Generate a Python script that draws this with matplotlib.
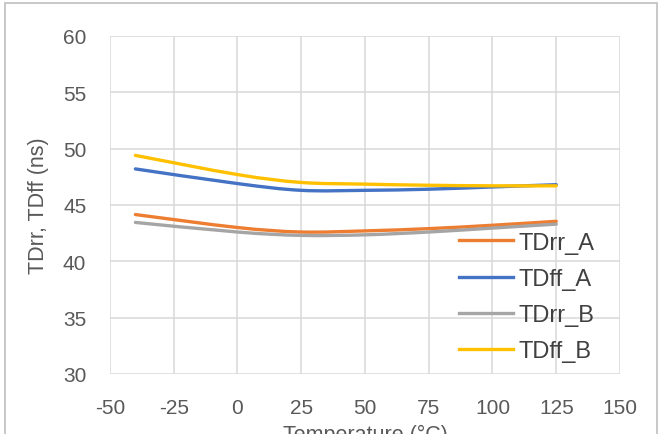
import numpy as np
import matplotlib
matplotlib.use('Agg')
import matplotlib.pyplot as plt
from matplotlib.path import Path
from matplotlib.patches import PathPatch, Rectangle
from matplotlib.lines import Line2D

plt.rcParams['font.family'] = ['Liberation Sans', 'DejaVu Sans']
plt.rcParams['axes.unicode_minus'] = False

# data
temps = [-40, 0, 25, 50, 75, 100, 125]
tdrr_a = [44.15, 43.0, 42.6, 42.7, 42.9, 43.2, 43.55]
tdff_a = [48.2, 46.9, 46.3, 46.3, 46.4, 46.6, 46.8]
tdrr_b = [43.45, 42.6, 42.3, 42.35, 42.6, 42.95, 43.3]
tdff_b = [49.4, 47.7, 47.0, 46.85, 46.75, 46.7, 46.7]

series = [
    ('TDrr_A', tdrr_a, '#ED7D31'),
    ('TDff_A', tdff_a, '#4472C4'),
    ('TDrr_B', tdrr_b, '#A5A5A5'),
    ('TDff_B', tdff_b, '#FFC000'),
]


def smooth_path(x, y):
    # Excel-like smoothed line: cubic beziers through the data points
    x = np.asarray(x, float)
    y = np.asarray(y, float)
    pts = np.column_stack([x, y])
    n = len(pts)
    verts = [pts[0]]
    codes = [Path.MOVETO]
    for i in range(n - 1):
        p0 = pts[i - 1] if i > 0 else pts[i]
        p1 = pts[i]
        p2 = pts[i + 1]
        p3 = pts[i + 2] if i + 2 < n else pts[i + 1]
        c1 = p1 + (p2 - p0) / 6.0
        c2 = p2 - (p3 - p1) / 6.0
        verts += [c1, c2, p2]
        codes += [Path.CURVE4] * 3
    return Path(verts, codes)


fig = plt.figure(figsize=(6.62, 4.35), dpi=100)
ax = fig.add_axes([0.166, 0.138, 0.7706, 0.777])

handles = []
for name, vals, col in series:
    patch = PathPatch(smooth_path(temps, vals), facecolor='none', edgecolor=col,
                      lw=2.4, capstyle='round', joinstyle='round')
    ax.add_patch(patch)
    handles.append(Line2D([], [], color=col, lw=2.4, label=name))

ax.set_xlim(-50, 150)
ax.set_ylim(30, 60)
ax.set_xticks(np.arange(-50, 151, 25))
ax.set_yticks(np.arange(30, 61, 5))
ax.grid(True, color='#D9D9D9', lw=1.1)
ax.set_axisbelow(True)
for s in ax.spines.values():
    s.set_visible(False)
ax.tick_params(length=0, labelsize=15, colors='#595959')
ax.tick_params(axis='y', pad=17)
ax.tick_params(axis='x', pad=17)

ax.set_ylabel('TDrr, TDff (ns)', fontsize=15.5, color='#595959', labelpad=10)
ax.set_xlabel('Temperature (°C)', fontsize=15.5, color='#595959', labelpad=5)

leg = ax.legend(handles=handles, loc='center left', bbox_to_anchor=(0.666, 0.228),
                frameon=False, fontsize=17, handlelength=2.3, handletextpad=0.2,
                labelspacing=0.6, borderaxespad=0.0)
for t in leg.get_texts():
    t.set_color('#404040')

# chart border like the reference
fig.patches.append(Rectangle((5 / 662, -0.1), 652 / 662, 1.1 - 4 / 435,
                             transform=fig.transFigure, fill=False,
                             edgecolor='#BFBFBF', lw=1.2))

fig.savefig('out.png', dpi=100)
